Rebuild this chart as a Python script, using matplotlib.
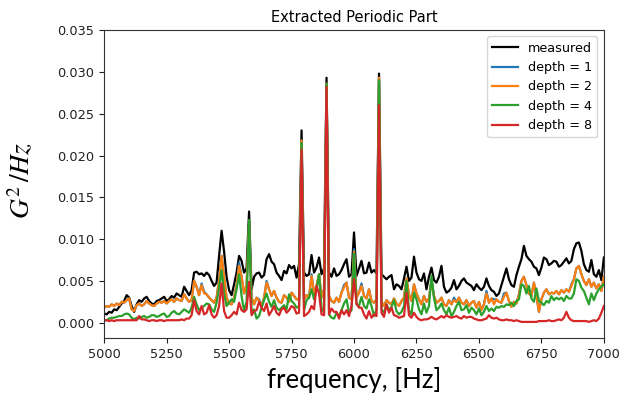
import numpy as np
import matplotlib
matplotlib.use("Agg")
import matplotlib.pyplot as plt

# frequency grid, 10 Hz steps
freq = np.arange(5000, 7001, 10)

# values, in units of 1e-3 G^2/Hz (one row = 100 Hz)
measured = [
    1.1, 1.0, 1.3, 1.2, 1.6, 1.5, 1.9, 2.3, 2.6, 3.3,
    3.0, 2.0, 1.3, 2.2, 2.7, 2.5, 2.9, 3.1, 2.6, 2.3,
    2.2, 2.6, 2.7, 2.9, 3.1, 2.6, 2.8, 3.2, 3.0, 3.5,
    3.3, 3.1, 4.3, 3.8, 3.3, 3.9, 6.0, 6.1, 5.8, 5.9,
    5.6, 6.0, 5.7, 5.0, 4.4, 4.8, 8.0, 11.0, 8.5, 5.5,
    3.9, 3.3, 4.6, 6.0, 8.0, 7.4, 6.0, 6.5, 13.3, 4.0,
    5.5, 5.9, 6.0, 5.4, 5.7, 7.6, 8.2, 7.3, 7.0, 6.0,
    5.6, 5.1, 6.2, 5.9, 6.9, 6.5, 6.8, 5.4, 7.0, 23.0,
    6.0, 5.6, 5.8, 8.1, 6.0, 6.6, 7.8, 5.8, 6.5, 29.3,
    6.0, 5.5, 6.5, 5.6, 5.8, 6.3, 7.0, 7.6, 5.5, 5.8,
    10.8, 5.6, 6.5, 7.4, 5.9, 6.0, 7.2, 6.0, 6.3, 5.9,
    29.8, 5.8, 5.5, 5.2, 5.5, 5.7, 4.0, 4.6, 4.4, 4.0,
    5.3, 6.7, 5.0, 5.4, 7.9, 6.0, 5.2, 5.0, 5.9, 4.0,
    5.5, 6.6, 5.1, 4.8, 5.5, 6.8, 4.3, 3.6, 3.8, 4.2,
    5.1, 4.0, 4.4, 5.0, 5.3, 4.8, 4.6, 4.4, 3.9, 4.6,
    4.2, 3.9, 4.3, 5.3, 4.4, 3.9, 3.7, 3.2, 3.5, 4.5,
    5.5, 6.5, 5.2, 4.5, 4.3, 5.7, 6.7, 7.6, 9.2, 8.0,
    7.6, 7.3, 6.7, 6.5, 5.7, 6.6, 7.8, 7.6, 6.9, 7.1,
    7.4, 7.3, 6.7, 6.9, 7.3, 7.7, 7.1, 7.4, 8.8, 9.5,
    9.6, 8.6, 7.0, 6.3, 6.1, 7.5, 5.8, 5.5, 6.3, 5.1,
    7.8,
]

depth1 = [
    1.8, 2.0, 1.9, 2.2, 2.0, 2.3, 2.1, 2.5, 2.4, 2.7,
    2.9, 1.6, 1.4, 2.1, 2.3, 2.0, 2.2, 2.6, 2.3, 2.1,
    2.0, 2.3, 2.5, 2.4, 2.6, 2.3, 2.6, 2.8, 2.5, 2.9,
    2.7, 2.6, 3.4, 2.9, 2.5, 2.7, 5.0, 4.3, 3.3, 4.7,
    3.7, 3.4, 3.0, 2.7, 2.4, 3.0, 5.2, 8.0, 5.5, 3.0,
    2.3, 2.2, 3.0, 4.5, 7.2, 5.5, 3.5, 4.5, 11.8, 3.0,
    2.2, 3.0, 2.8, 2.0, 3.0, 5.0, 4.0, 3.2, 3.8, 3.0,
    2.5, 2.4, 3.3, 3.0, 2.5, 3.6, 3.2, 2.8, 2.8, 21.8,
    2.8, 3.3, 3.0, 5.8, 3.5, 4.4, 5.8, 3.0, 4.0, 28.6,
    3.2, 2.6, 2.4, 3.0, 2.5, 3.6, 4.5, 4.8, 3.0, 2.8,
    8.8, 3.0, 3.6, 4.7, 3.2, 2.9, 4.0, 2.6, 2.4, 2.8,
    29.3, 2.5, 2.0, 2.7, 2.4, 2.2, 2.9, 2.3, 2.0, 2.6,
    3.0, 5.3, 3.4, 2.6, 4.6, 3.5, 2.8, 2.2, 3.2, 2.5,
    2.9, 5.2, 3.2, 2.4, 2.6, 3.0, 2.2, 2.0, 2.7, 2.2,
    3.0, 2.5, 3.0, 2.4, 2.2, 2.7, 2.0, 2.4, 2.6, 1.8,
    2.5, 1.5, 2.2, 3.8, 2.4, 2.9, 2.8, 2.8, 2.5, 2.4,
    3.5, 3.6, 2.6, 1.9, 2.5, 2.3, 3.4, 5.0, 5.5, 4.5,
    3.5, 3.2, 4.8, 3.2, 1.3, 2.8, 3.6, 4.0, 3.4, 3.6,
    3.5, 3.8, 3.4, 3.9, 3.6, 4.0, 3.7, 4.6, 5.2, 6.5,
    6.8, 5.8, 5.0, 4.5, 5.2, 4.3, 4.8, 4.1, 4.6, 3.8,
    5.5,
]

depth2 = [
    1.8, 2.0, 1.9, 2.2, 2.0, 2.3, 2.1, 2.5, 2.4, 2.7,
    2.9, 1.6, 1.4, 2.1, 2.3, 2.0, 2.2, 2.6, 2.3, 2.1,
    2.0, 2.3, 2.5, 2.4, 2.6, 2.3, 2.6, 2.8, 2.5, 2.9,
    2.7, 2.6, 3.4, 2.9, 2.5, 2.7, 5.0, 4.3, 3.3, 4.5,
    3.5, 3.4, 3.0, 2.7, 2.4, 3.0, 5.0, 8.0, 5.5, 3.0,
    2.3, 2.2, 3.0, 4.5, 6.8, 5.5, 3.5, 4.5, 11.8, 3.0,
    2.2, 3.0, 2.6, 2.0, 3.0, 4.8, 4.0, 3.2, 3.8, 3.0,
    2.5, 2.4, 3.3, 3.0, 2.5, 3.6, 3.2, 2.8, 2.8, 21.8,
    2.8, 3.3, 3.0, 5.6, 3.5, 4.4, 5.8, 3.0, 4.0, 28.6,
    3.2, 2.6, 2.4, 3.0, 2.5, 3.6, 4.2, 4.8, 3.0, 2.8,
    8.5, 3.0, 3.6, 4.4, 3.2, 2.9, 4.0, 2.6, 2.4, 2.8,
    29.3, 2.5, 2.0, 2.7, 2.4, 2.2, 2.9, 2.3, 2.0, 2.6,
    3.0, 5.3, 3.4, 2.6, 4.6, 3.5, 2.8, 2.2, 3.2, 2.5,
    2.9, 5.0, 3.2, 2.4, 2.6, 3.0, 2.2, 2.0, 2.7, 2.2,
    2.7, 2.5, 3.0, 2.4, 2.2, 2.7, 2.0, 2.4, 2.6, 1.8,
    2.5, 1.5, 2.2, 3.5, 2.4, 2.9, 2.2, 2.8, 2.5, 2.4,
    3.1, 3.6, 2.6, 1.9, 2.5, 2.3, 3.4, 5.0, 5.5, 4.5,
    3.5, 3.2, 4.8, 3.2, 1.3, 2.8, 3.6, 4.0, 3.4, 3.6,
    3.5, 3.8, 3.4, 3.9, 3.6, 4.0, 3.7, 4.4, 5.2, 6.5,
    6.8, 5.8, 5.0, 4.5, 5.2, 4.3, 4.8, 4.1, 4.6, 3.8,
    5.5,
]

depth4 = [
    0.3, 0.3, 0.5, 0.6, 0.6, 0.7, 0.8, 0.8, 1.0, 1.1,
    1.0, 0.6, 0.4, 0.6, 0.5, 0.7, 0.8, 0.6, 0.7, 0.9,
    0.9, 0.7, 0.8, 1.0, 1.1, 0.7, 0.8, 1.2, 1.4, 1.1,
    1.0, 1.3, 1.6, 1.4, 1.2, 1.8, 3.1, 2.2, 1.5, 1.8,
    2.0, 2.3, 2.2, 1.6, 1.3, 2.4, 4.2, 6.3, 3.5, 2.0,
    2.4, 2.8, 2.5, 4.0, 5.8, 3.2, 1.4, 2.5, 12.3, 1.2,
    1.6, 0.5, 0.8, 1.8, 2.7, 3.5, 2.5, 1.9, 2.7, 1.8,
    1.5, 1.8, 2.1, 1.6, 3.4, 2.6, 2.3, 1.8, 2.0, 21.5,
    1.5, 2.7, 3.0, 4.0, 2.8, 4.0, 5.8, 1.8, 1.2, 28.6,
    1.0, 0.6, 0.5, 1.2, 0.8, 1.5, 2.3, 2.8, 1.2, 1.5,
    8.3, 2.2, 2.0, 3.1, 2.0, 1.7, 2.8, 2.0, 0.8, 1.6,
    29.0, 1.6, 1.2, 2.2, 1.5, 1.9, 2.7, 1.4, 1.0, 1.3,
    2.0, 5.0, 1.5, 1.0, 3.6, 2.8, 1.6, 1.0, 2.3, 1.2,
    2.0, 5.6, 3.0, 1.5, 1.8, 2.3, 1.5, 1.0, 1.8, 0.8,
    1.3, 2.0, 2.5, 1.5, 1.6, 2.1, 1.2, 1.8, 1.5, 1.0,
    1.7, 0.9, 1.3, 2.0, 1.4, 1.7, 1.4, 1.9, 1.8, 2.0,
    1.9, 2.2, 2.1, 2.4, 2.0, 2.6, 2.8, 4.6, 4.4, 3.5,
    4.4, 2.9, 2.5, 4.1, 2.6, 2.4, 2.1, 2.6, 2.4, 3.2,
    2.7, 3.0, 2.8, 3.0, 2.6, 3.2, 2.9, 2.9, 3.5, 5.2,
    5.0, 4.2, 3.8, 3.0, 2.2, 3.5, 2.7, 3.5, 4.0, 4.3,
    4.6,
]

depth8 = [
    0.3, 0.3, 0.2, 0.3, 0.2, 0.3, 0.3, 0.3, 0.3, 0.3,
    0.3, 0.3, 0.3, 0.3, 0.8, 0.4, 0.4, 0.3, 0.2, 0.3,
    0.3, 0.2, 0.3, 0.3, 0.2, 0.3, 0.3, 0.3, 0.3, 0.3,
    0.3, 0.4, 0.3, 0.5, 0.5, 0.9, 2.7, 1.4, 1.0, 2.0,
    1.0, 1.2, 2.1, 1.0, 0.6, 0.9, 2.0, 4.7, 1.4, 0.6,
    0.6, 0.9, 1.3, 1.0, 2.4, 1.5, 1.3, 1.6, 4.9, 0.9,
    1.4, 1.5, 2.5, 1.8, 1.4, 2.3, 0.9, 1.4, 2.0, 1.2,
    0.9, 1.6, 1.8, 1.2, 1.5, 2.0, 1.8, 1.1, 1.2, 20.7,
    0.8, 1.0, 1.3, 2.0, 1.6, 4.4, 3.5, 1.0, 0.9, 28.2,
    1.0, 1.7, 1.3, 1.3, 0.5, 1.5, 1.0, 1.5, 0.8, 2.0,
    5.2, 2.3, 1.8, 1.8, 1.0, 0.5, 1.4, 0.6, 1.0, 0.8,
    26.0, 1.2, 0.7, 2.2, 1.2, 1.8, 0.9, 0.8, 0.6, 0.7,
    0.8, 3.6, 0.9, 0.6, 1.2, 0.7, 0.4, 0.3, 0.4, 0.4,
    0.5, 0.7, 0.5, 0.4, 0.6, 0.8, 0.6, 0.9, 0.7, 0.6,
    0.7, 0.8, 0.6, 0.5, 0.8, 0.6, 0.7, 0.7, 0.5, 0.4,
    0.3, 0.3, 0.4, 0.5, 0.9, 0.6, 0.5, 0.6, 0.4, 0.3,
    0.3, 0.4, 0.3, 0.3, 0.2, 0.3, 0.2, 0.1, 0.1, 0.1,
    0.1, 0.1, 0.1, 0.1, 0.2, 0.2, 0.2, 0.2, 0.3, 0.2,
    0.2, 0.3, 0.4, 0.3, 0.6, 1.3, 0.6, 0.3, 0.2, 0.2,
    0.2, 0.2, 0.2, 0.2, 0.1, 0.2, 0.3, 0.2, 0.5, 1.2,
    2.0,
]

series = [
    ("measured", measured, "k"),
    ("depth = 1", depth1, "tab:blue"),
    ("depth = 2", depth2, "tab:orange"),
    ("depth = 4", depth4, "tab:green"),
    ("depth = 8", depth8, "tab:red"),
]

plt.rcParams["mathtext.fontset"] = "stix"

fig = plt.figure(figsize=(6.2, 3.96), dpi=100)
ax = fig.add_axes([0.168, 0.147, 0.806, 0.777])

for name, vals, col in series:
    ax.plot(freq, np.array(vals) * 1e-3, color=col, lw=1.6, label=name)

ax.set_xlim(5000, 7000)
ax.set_ylim(-0.0018, 0.035)
ax.set_xticks(np.arange(5000, 7001, 250))
ax.set_yticks(np.arange(0, 0.0351, 0.005))
ax.yaxis.set_major_formatter(matplotlib.ticker.FormatStrFormatter("%.3f"))
ax.tick_params(labelsize=9.3, colors="#222222")
for s in ax.spines.values():
    s.set_color("#333333")
ax.set_title("Extracted Periodic Part", fontsize=10.5)
ax.legend(loc="upper right", fontsize=9.2)

fig.text(0.572, 0.04, "frequency, [Hz]", fontsize=18.5, family="Lato",
         ha="center", va="center")
fig.text(0.035, 0.545, r"$G^2\,/Hz$", fontsize=20, rotation=90,
         ha="center", va="center")

fig.savefig("out.png", dpi=100)
